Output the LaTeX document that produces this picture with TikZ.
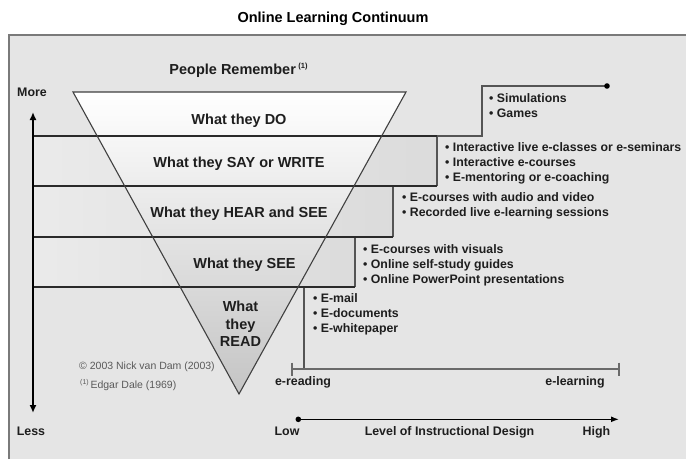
\documentclass[tikz,border=0pt]{standalone}
\usepackage{fontspec}
\setmainfont{Liberation Sans}
\usetikzlibrary{arrows.meta}
\definecolor{framebg}{HTML}{E5E5E5}
\definecolor{framerule}{HTML}{7A7A7A}
\definecolor{ink}{HTML}{1E1E1E}
\definecolor{bandline}{HTML}{2A2A2A}
\definecolor{stepline}{HTML}{555555}
\definecolor{axisgray}{HTML}{6A6A6A}
\definecolor{notegray}{HTML}{5A5A5A}
\begin{document}
\begin{tikzpicture}[x=1pt,y=-1pt,
  title/.style={font=\fontsize{14.5}{17}\selectfont\bfseries, anchor=base, inner sep=0, text=black},
  band/.style={font=\fontsize{14.5}{17}\selectfont\bfseries, anchor=base, inner sep=0, text=ink},
  item/.style={font=\fontsize{12.3}{15}\selectfont\bfseries, anchor=base west, inner sep=0, text=ink},
  axislabel/.style={font=\fontsize{12.4}{15}\selectfont\bfseries, anchor=base, inner sep=0, text=ink},
  note/.style={font=\fontsize{10.5}{12}\selectfont, anchor=base west, inner sep=0, text=notegray},
  hline/.style={draw=bandline, line width=1.8pt},
  vline/.style={draw=stepline, line width=1.2pt},
  tri/.style={draw=black!75, line width=1.1pt, line join=miter},
  gaxis/.style={draw=axisgray, line width=1.3pt},
  stairbox/.style={left color=black!8, right color=black!14}]
\useasboundingbox (0,0) rectangle (686,459);
\fill[white] (0,0) rectangle (686,459);

% panel
\fill[framebg] (9,35) rectangle (686,459);
\draw[framerule, line width=1.6pt] (9,459) -- (9,35) -- (686,35);

% key points
\coordinate (tl) at (73,92);
\coordinate (tr) at (406,92);
\coordinate (apex) at (239,394);

% stair boxes
\shade[stairbox] (33,136) rectangle (437,186);
\shade[stairbox] (33,186) rectangle (393,237);
\shade[stairbox] (33,237) rectangle (355,287);

% remembering cone
\shade[top color=white, bottom color=black!23] (tl) -- (tr) -- (apex) -- cycle;

% step risers
\draw[vline] (437,136) -- (437,186);
\draw[vline] (393,186) -- (393,237);
\draw[vline] (355,237) -- (355,287);
\draw[vline] (304,287) -- (304,369);
\coordinate (topdot) at (607,86);
\draw[vline] (437,136) -- (482,136) -- (482,86) -- (topdot);
\fill[black] (topdot) circle (2.8);

% band separators
\draw[hline] (33,136) -- (437,136);
\draw[hline] (33,186) -- (437,186);
\draw[hline] (33,237) -- (393,237);
\draw[hline] (33,287) -- (355,287);

\draw[tri] (tl) -- (tr) -- (apex) -- cycle;

% more / less scale
\coordinate (moretip) at (33,112);
\coordinate (lesstip) at (33,413);
\draw[black, line width=2pt, {Latex[length=8pt,width=7pt]}-{Latex[length=8pt,width=7pt]}] (moretip) -- (lesstip);
\node[axislabel] (more) at (32,96.7) {More};
\node[axislabel] (less) at (31,435.7) {Less};

% e-reading to e-learning scale
\coordinate (er) at (292,369);
\coordinate (el) at (619,369);
\draw[gaxis] (er) -- (el);
\draw[gaxis] (292,362.5) -- (292,375.5);
\draw[gaxis] (619,362.5) -- (619,375.5);
\node[axislabel] (ereading) at (303,385.7) {e-reading};
\node[axislabel] (elearning) at (575,385.7) {e-learning};

% instructional design axis
\coordinate (lowpt) at (298.3,419.3);
\coordinate (highpt) at (619,419.3);
\fill[black] (lowpt) circle (2.8);
\draw[black, line width=1.4pt, -{Latex[length=8pt,width=6pt]}] (lowpt) -- (highpt);
\node[axislabel] (low) at (287,435.7) {Low};
\node[axislabel] (level) at (449.5,435.7) {Level of Instructional Design};
\node[axislabel] (high) at (596.5,435.7) {High};

% headings
\node[title] (title) at (333,22.7) {Online Learning Continuum};
\node[band] (people) at (238.5,74) {People Remember\,\raisebox{5.5pt}{\fontsize{7.5}{8}\selectfont(1)}};

% cone labels
\node[band] (do) at (239,124) {What they DO};
\node[band] (say) at (239,167.3) {What they SAY or WRITE};
\node[band] (hear) at (239,217.7) {What they HEAR and SEE};
\node[band] (see) at (244.5,268.3) {What they SEE};
\node[band] (read1) at (240.5,311) {What};
\node[band] (read2) at (240.5,329) {they};
\node[band] (read3) at (240.5,346.7) {READ};

% delivery formats
\node[item] (sim) at (489,102.7) {• Simulations};
\node[item] (games) at (489,117.7) {• Games};
\node[item] (live) at (445,151.7) {• Interactive live e-classes or e-seminars};
\node[item] (icourse) at (445,166.7) {• Interactive e-courses};
\node[item] (mentor) at (445,181.7) {• E-mentoring or e-coaching};
\node[item] (audio) at (402,201.7) {• E-courses with audio and video};
\node[item] (recorded) at (402,216.7) {• Recorded live e-learning sessions};
\node[item] (visuals) at (363,253.5) {• E-courses with visuals};
\node[item] (selfstudy) at (363,268.5) {• Online self-study guides};
\node[item] (ppt) at (363,283.5) {• Online PowerPoint presentations};
\node[item] (email) at (313,302.3) {• E-mail};
\node[item] (edocs) at (313,317.3) {• E-documents};
\node[item] (paper) at (313,332.3) {• E-whitepaper};

% credits
\node[note] (copy) at (79,369.3) {© 2003 Nick van Dam (2003)};
\node[note] (dale) at (80,388.3) {\raisebox{3.5pt}{\fontsize{7}{8}\selectfont(1)}\,Edgar Dale (1969)};
\end{tikzpicture}
\end{document}
